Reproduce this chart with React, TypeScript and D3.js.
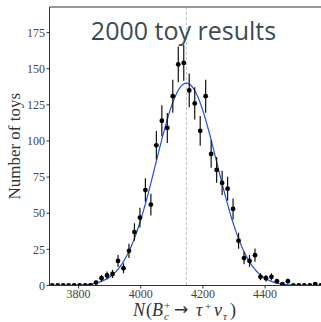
import * as d3 from "d3";

// histogram of the fitted yields, 50 bins between the extreme toy values
const binLo = 3706.5;
const binHi = 4588;
const counts = [
  0, 0, 0, 0, 0, 0, 0, 0, 2, 5,
  7, 8, 17, 12, 24, 37, 47, 66, 56, 97,
  114, 109, 131, 153, 154, 135, 126, 107, 131, 91,
  80, 71, 67, 53, 31, 19, 17, 21, 6, 5,
  6, 3, 1, 3, 0, 0, 0, 0, 1, 0,
];
const xTicks = [3800, 4000, 4200, 4400];
const yTicks = [0, 25, 50, 75, 100, 125, 150, 175];
// gaussian fit
const fitMean = 4147;
const fitSigma = 98;
const fitPeak = 140;
const title = "2000 toy results";

const W = 321;
const H = 322;
const m = {left: 49.5, top: 7, bottom: 285.5, right: 323.5};

export default function App() {
  const x = d3.scaleLinear().domain([binLo, binHi]).range([m.left, m.right]);
  const y = d3.scaleLinear().domain([0, 192.7]).range([m.bottom, m.top]);
  const bw = (binHi - binLo) / counts.length;
  const pts = counts.map((c, i) => ({xv: binLo + bw * (i + 0.5), c}));

  const curveX = d3.range(0, 401).map((i) => binLo + ((binHi - binLo) * i) / 400);
  const line = d3
    .line<number>()
    .x((d) => x(d))
    .y((d) => y(fitPeak * Math.exp(-0.5 * ((d - fitMean) / fitSigma) ** 2)));

  const serif = "'Liberation Serif', 'Times New Roman', serif";
  const axisCol = "#333";
  const lx = 133; // x label start
  const ly = 316; // x label baseline

  return (
    <svg
      width={W}
      height={H}
      style={{position: "absolute", left: 0, top: 0, background: "#fff"}}
    >
      <defs>
        <clipPath id="plot">
          <rect x={m.left} y={m.top} width={m.right - m.left} height={m.bottom - m.top} />
        </clipPath>
      </defs>

      {/* mean marker */}
      <line
        x1={x(fitMean)}
        x2={x(fitMean)}
        y1={m.top}
        y2={m.bottom}
        stroke="#bbb"
        strokeWidth={0.9}
        strokeDasharray="3,2"
      />

      <g clipPath="url(#plot)">
        <path d={line(curveX) ?? ""} fill="none" stroke="#1f4fe0" strokeWidth={1.2} />
        {pts.map((p, i) => {
          const e = Math.sqrt(p.c);
          return (
            <g key={i}>
              {p.c > 0 && (
                <line
                  x1={x(p.xv)}
                  x2={x(p.xv)}
                  y1={y(p.c + e)}
                  y2={y(Math.max(0, p.c - e))}
                  stroke="#111"
                  strokeWidth={1.2}
                />
              )}
              <circle cx={x(p.xv)} cy={y(p.c)} r={2.4} fill="#000" />
            </g>
          );
        })}
      </g>

      {/* frame */}
      <line x1={m.left} x2={m.left} y1={m.top} y2={m.bottom} stroke={axisCol} strokeWidth={1} />
      <line x1={m.left} x2={W} y1={m.top} y2={m.top} stroke={axisCol} strokeWidth={1} />
      <line x1={m.left} x2={W} y1={m.bottom} y2={m.bottom} stroke={axisCol} strokeWidth={1} />

      {yTicks.map((t) => (
        <g key={t}>
          <line x1={m.left - 3} x2={m.left} y1={y(t)} y2={y(t)} stroke={axisCol} />
          <text
            x={m.left - 4.5}
            y={y(t)}
            dy="0.35em"
            textAnchor="end"
            fontFamily={serif}
            fontSize={12}
            fill="#444"
          >
            {t}
          </text>
        </g>
      ))}
      {xTicks.map((t) => (
        <g key={t}>
          <line x1={x(t)} x2={x(t)} y1={m.bottom} y2={m.bottom + 3} stroke={axisCol} />
          <text
            x={x(t)}
            y={m.bottom + 12}
            textAnchor="middle"
            fontFamily={serif}
            fontSize={12}
            fill="#444"
          >
            {t}
          </text>
        </g>
      ))}

      <text
        transform={`translate(20,${(m.top + m.bottom) / 2}) rotate(-90)`}
        textAnchor="middle"
        fontFamily={serif}
        fontSize={17}
        fill="#333"
      >
        Number of toys
      </text>

      {/* N(B_c^+ -> tau^+ nu_tau) */}
      <g fontFamily={serif} fill="#333">
        <text x={lx} y={ly} fontSize={18} fontStyle="italic">N</text>
        <text x={lx + 13} y={ly} fontSize={18}>(</text>
        <text x={lx + 19} y={ly} fontSize={18} fontStyle="italic">B</text>
        <text x={lx + 31} y={ly - 7} fontSize={11}>+</text>
        <text x={lx + 31} y={ly + 4} fontSize={11} fontStyle="italic">c</text>
        <text x={lx + 41} y={ly - 1} fontSize={17} fontFamily="'DejaVu Sans', sans-serif">→</text>
        <text x={lx + 63} y={ly} fontSize={18} fontStyle="italic">τ</text>
        <text x={lx + 72} y={ly - 6} fontSize={11}>+</text>
        <text x={lx + 81} y={ly} fontSize={18} fontStyle="italic">ν</text>
        <text x={lx + 90} y={ly + 4} fontSize={11} fontStyle="italic">τ</text>
        <text x={lx + 97} y={ly} fontSize={18}>)</text>
      </g>

      <text
        x={183.5}
        y={40}
        textAnchor="middle"
        fontFamily="'Open Sans', sans-serif"
        fontSize={25}
        fill="#3b4b52"
      >
        {title}
      </text>
    </svg>
  );
}
